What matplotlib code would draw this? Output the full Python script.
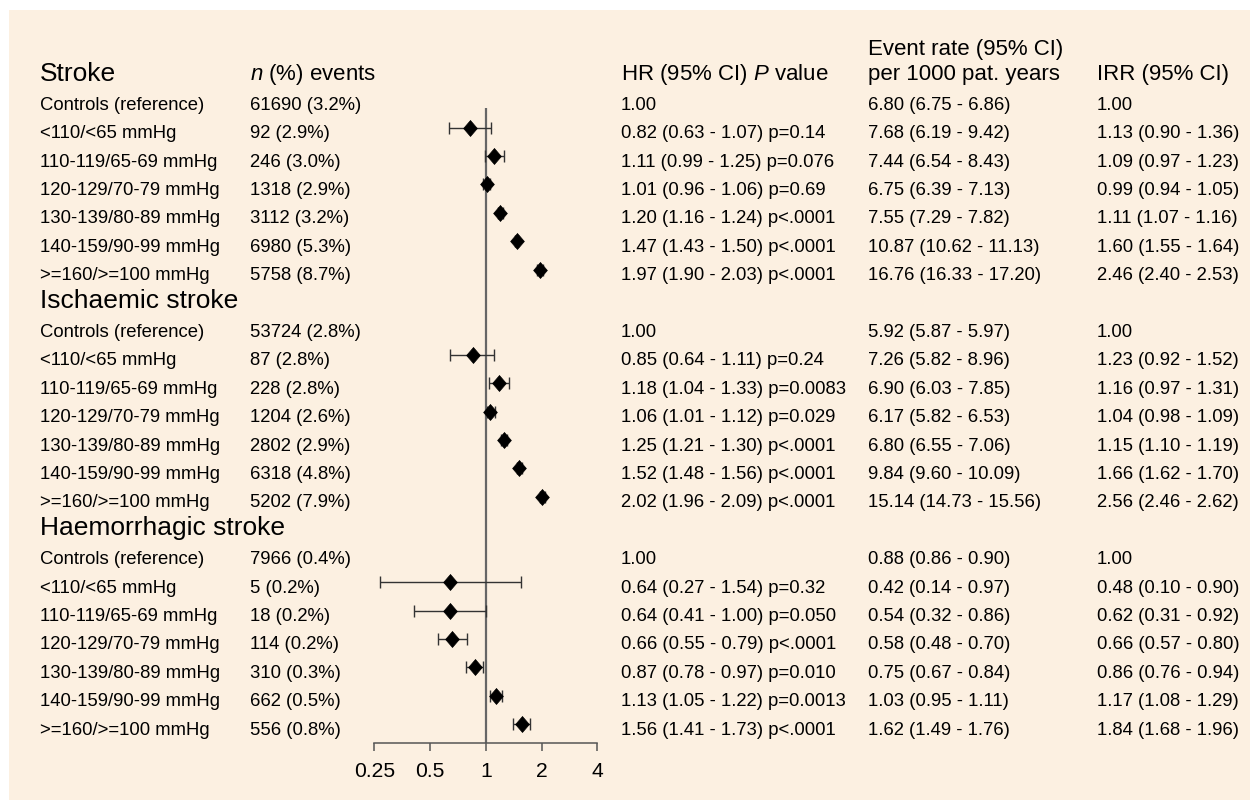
import numpy as np
import matplotlib.pyplot as plt
import matplotlib.transforms as mtransforms
from matplotlib.patches import Rectangle

plt.rcParams['font.family'] = 'Liberation Sans'
plt.rcParams['mathtext.fontset'] = 'custom'
plt.rcParams['mathtext.rm'] = 'Liberation Sans'
plt.rcParams['mathtext.it'] = 'Liberation Sans:italic'

# --- data ---
groups = ['Stroke', 'Ischaemic stroke', 'Haemorrhagic stroke']
categories = ['Controls (reference)', '<110/<65 mmHg', '110-119/65-69 mmHg',
              '120-129/70-79 mmHg', '130-139/80-89 mmHg', '140-159/90-99 mmHg',
              '>=160/>=100 mmHg']

events = [
    ['61690 (3.2%)', '92 (2.9%)', '246 (3.0%)', '1318 (2.9%)', '3112 (3.2%)', '6980 (5.3%)', '5758 (8.7%)'],
    ['53724 (2.8%)', '87 (2.8%)', '228 (2.8%)', '1204 (2.6%)', '2802 (2.9%)', '6318 (4.8%)', '5202 (7.9%)'],
    ['7966 (0.4%)', '5 (0.2%)', '18 (0.2%)', '114 (0.2%)', '310 (0.3%)', '662 (0.5%)', '556 (0.8%)'],
]

# hazard ratios for the 6 BP categories (controls = reference 1.00)
hr = [[0.82, 1.11, 1.01, 1.20, 1.47, 1.97],
      [0.85, 1.18, 1.06, 1.25, 1.52, 2.02],
      [0.64, 0.64, 0.66, 0.87, 1.13, 1.56]]
hr_lo = [[0.63, 0.99, 0.96, 1.16, 1.43, 1.90],
         [0.64, 1.04, 1.01, 1.21, 1.48, 1.96],
         [0.27, 0.41, 0.55, 0.78, 1.05, 1.41]]
hr_hi = [[1.07, 1.25, 1.06, 1.24, 1.50, 2.03],
         [1.11, 1.33, 1.12, 1.30, 1.56, 2.09],
         [1.54, 1.00, 0.79, 0.97, 1.22, 1.73]]
p_vals = [['0.14', '0.076', '0.69', '<.0001', '<.0001', '<.0001'],
          ['0.24', '0.0083', '0.029', '<.0001', '<.0001', '<.0001'],
          ['0.32', '0.050', '<.0001', '0.010', '0.0013', '<.0001']]

# event rate per 1000 patient years (7 rows incl. controls)
rate = [[6.80, 7.68, 7.44, 6.75, 7.55, 10.87, 16.76],
        [5.92, 7.26, 6.90, 6.17, 6.80, 9.84, 15.14],
        [0.88, 0.42, 0.54, 0.58, 0.75, 1.03, 1.62]]
rate_lo = [[6.75, 6.19, 6.54, 6.39, 7.29, 10.62, 16.33],
           [5.87, 5.82, 6.03, 5.82, 6.55, 9.60, 14.73],
           [0.86, 0.14, 0.32, 0.48, 0.67, 0.95, 1.49]]
rate_hi = [[6.86, 9.42, 8.43, 7.13, 7.82, 11.13, 17.20],
           [5.97, 8.96, 7.85, 6.53, 7.06, 10.09, 15.56],
           [0.90, 0.97, 0.86, 0.70, 0.84, 1.11, 1.76]]

# incidence rate ratios for the 6 BP categories
irr = [[1.13, 1.09, 0.99, 1.11, 1.60, 2.46],
       [1.23, 1.16, 1.04, 1.15, 1.66, 2.56],
       [0.48, 0.62, 0.66, 0.86, 1.17, 1.84]]
irr_lo = [[0.90, 0.97, 0.94, 1.07, 1.55, 2.40],
          [0.92, 0.97, 0.98, 1.10, 1.62, 2.46],
          [0.10, 0.31, 0.57, 0.76, 1.08, 1.68]]
irr_hi = [[1.36, 1.23, 1.05, 1.16, 1.64, 2.53],
          [1.52, 1.31, 1.09, 1.19, 1.70, 2.62],
          [0.90, 0.92, 0.80, 0.94, 1.29, 1.96]]

x_ticks = [0.25, 0.5, 1, 2, 4]
x_tick_labels = ['0.25', '0.5', '1', '2', '4']

# --- layout (pixels of a 1250x800 canvas) ---
W, H = 1250, 800
row0_px = 70.9      # centre of first row
row_px = 28.4       # row pitch
axis_px = 743       # y of the x axis line
bg = '#FCF0E1'

fig = plt.figure(figsize=(12.5, 8), dpi=100)
fig.patch.set_facecolor('white')
fig.patches.append(Rectangle((9 / W, 0), 1 - 9 / W, 1 - 10 / H, transform=fig.transFigure,
                             facecolor=bg, edgecolor='none', zorder=-10))

x0_px, x1_px = 374.3, 597.3
ax = fig.add_axes([x0_px / W, 1 - axis_px / H, (x1_px - x0_px) / W, (axis_px - 10) / H])
ax.set_zorder(5)
ax.set_facecolor('none')
ax.set_xscale('log', base=2)
ax.set_xlim(0.25, 4)
ax.set_ylim((axis_px - row0_px) / row_px, (10 - row0_px) / row_px)

for s in ['left', 'top', 'right']:
    ax.spines[s].set_visible(False)
ax.spines['bottom'].set_color('#555555')
ax.spines['bottom'].set_linewidth(1.1)
ax.set_yticks([])
ax.xaxis.set_minor_locator(plt.NullLocator())
ax.set_xticks(x_ticks)
ax.set_xticklabels(x_tick_labels)
ax.tick_params(axis='x', direction='out', length=6, width=1.1, color='#555555',
               labelsize=15.2, pad=8)

# reference line at HR = 1
ax.vlines(1, 1.32, (axis_px - row0_px) / row_px, color='#666666', lw=1.6, zorder=1)

# text helper: x in pixels, y in rows
trans = mtransforms.blended_transform_factory(fig.transFigure, ax.transData)
body_off = 10.5 / row_px
head_off = 10 / row_px
colh_off = 9 / row_px


def put(xpx, row, s, size, off):
    fig.text(xpx / W, row + off, s, transform=trans, fontsize=size, va='baseline', ha='left')


col_lab, col_n, col_hr, col_er, col_irr = 40, 250, 621, 868, 1097
body_fs, head_fs, colh_fs = 13.3, 19, 16

# column headers
put(col_n, 0, r'$\mathit{n}$ (%) events', colh_fs, colh_off)
put(col_hr, 0, r'HR (95% CI) $\mathit{P}$ value', colh_fs, colh_off)
put(col_er, 0, 'Event rate (95% CI)', colh_fs, colh_off - 25 / row_px)
put(col_er, 0, 'per 1000 pat. years', colh_fs, colh_off)
put(col_irr, 0, 'IRR (95% CI)', colh_fs, colh_off)

diamond = [(0, 1), (0.86, 0), (0, -1), (-0.86, 0), (0, 1)]

for g, name in enumerate(groups):
    head_row = g * 8
    put(col_lab, head_row, name, head_fs, head_off)
    rows = np.arange(head_row + 1, head_row + 8)
    for i, cat in enumerate(categories):
        r = rows[i]
        put(col_lab, r, cat, body_fs, body_off)
        put(col_n, r, events[g][i], body_fs, body_off)
        put(col_er, r, f'{rate[g][i]:.2f} ({rate_lo[g][i]:.2f} - {rate_hi[g][i]:.2f})', body_fs, body_off)
        if i == 0:
            put(col_hr, r, '1.00', body_fs, body_off)
            put(col_irr, r, '1.00', body_fs, body_off)
        else:
            p = p_vals[g][i - 1]
            p_txt = 'p' + p if p.startswith('<') else 'p=' + p
            put(col_hr, r, f'{hr[g][i-1]:.2f} ({hr_lo[g][i-1]:.2f} - {hr_hi[g][i-1]:.2f}) {p_txt}', body_fs, body_off)
            put(col_irr, r, f'{irr[g][i-1]:.2f} ({irr_lo[g][i-1]:.2f} - {irr_hi[g][i-1]:.2f})', body_fs, body_off)

    # forest plot for the 6 BP categories
    h = np.array(hr[g])
    lo = np.array(hr_lo[g])
    hi = np.array(hr_hi[g])
    ax.errorbar(h, rows[1:], xerr=[h - lo, hi - h], fmt='none', ecolor='#333333',
                elinewidth=1, capsize=4.2, capthick=1, zorder=2)
    ax.plot(h, rows[1:], linestyle='none', marker=diamond, ms=11.5, color='black',
            mec='black', mew=0.5, zorder=3)

plt.savefig('out.png', dpi=100, facecolor=fig.get_facecolor())
